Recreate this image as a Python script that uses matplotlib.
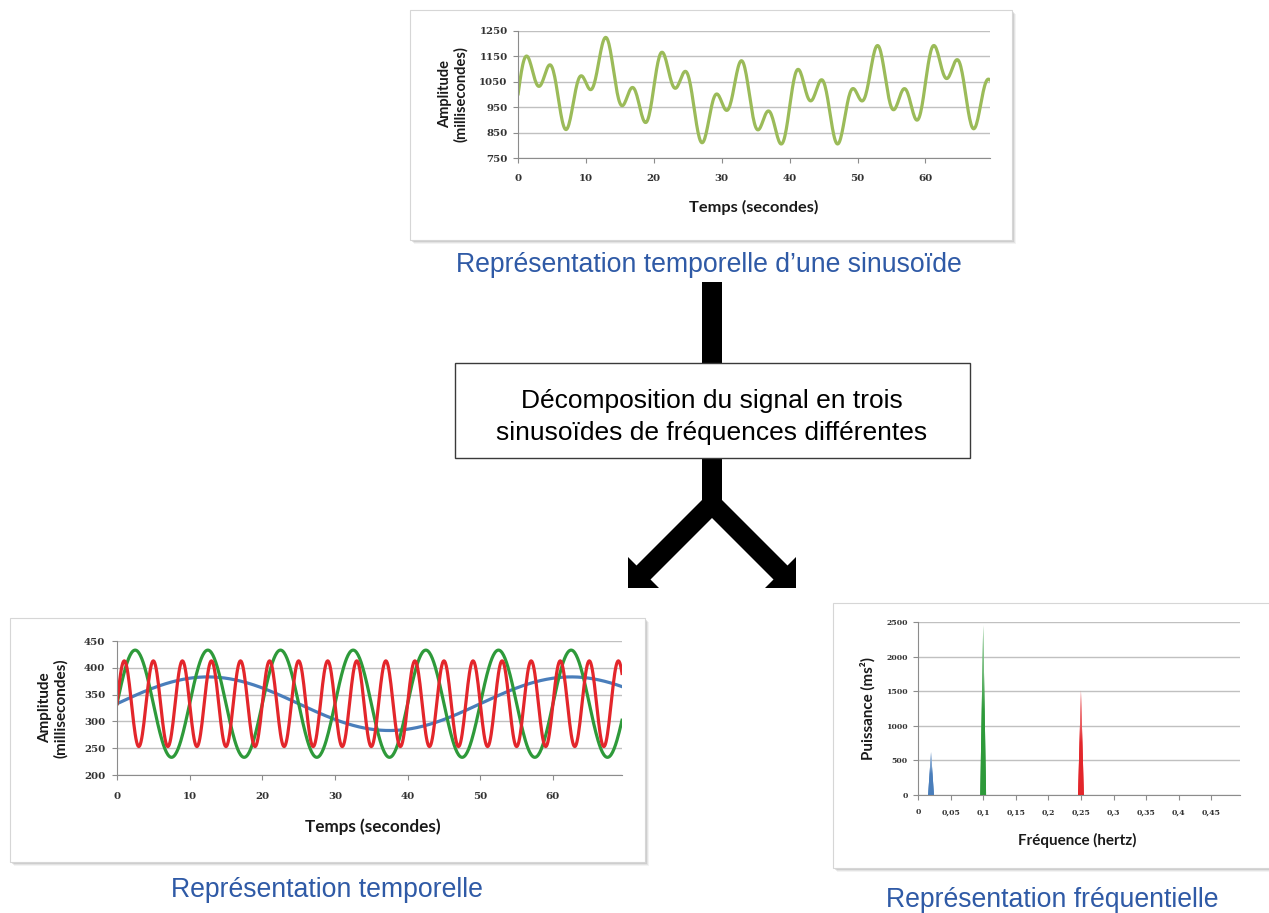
import numpy as np
import matplotlib.pyplot as plt
from matplotlib.patches import Rectangle, Polygon
from matplotlib.colors import LinearSegmentedColormap, to_rgb

W, H = 1269, 913

# the three sinusoids (their frequencies match the spectrum)
FREQ_HZ = [0.02, 0.1, 0.25]
AMPL_MS = [50, 100, 80]
MEAN_MS = 333
DURATION_S = 69.5

# spectrum peaks
POWER_MS2 = [620, 2450, 1510]
SPIKE_HALF_WIDTH = 0.0045

TOP_YTICKS = [750, 850, 950, 1050, 1150, 1250]
LEFT_YTICKS = [200, 250, 300, 350, 400, 450]
TIME_TICKS = [0, 10, 20, 30, 40, 50, 60]
FREQ_TICKS = [0, 0.05, 0.1, 0.15, 0.2, 0.25, 0.3, 0.35, 0.4, 0.45]
FREQ_LABELS = ["0", "0,05", "0,1", "0,15", "0,2", "0,25", "0,3", "0,35", "0,4", "0,45"]
POWER_TICKS = [0, 500, 1000, 1500, 2000, 2500]

COMP_COLORS = ["#4A7EBB", "#2E9A3A", "#E3262B"]
SUM_COLOR = "#9BBB59"
CAPTION_BLUE = "#2F5AA6"
GRID = "#C0C0C0"
AXIS = "#8C8C8C"

TICK_FAMILY = "DejaVu Serif"
LABEL_FONT = dict(family="Lato", weight="bold")
CAPTION_FONT = dict(family="Liberation Sans")


def px_axes(fig, left, top, right, bottom):
    return fig.add_axes([left / W, 1 - bottom / H, (right - left) / W, (bottom - top) / H])


def frame(canvas, x0, y0, x1, y1):
    for off, a in [(4, 0.08), (3, 0.12), (2, 0.18), (1, 0.25)]:
        canvas.add_patch(Rectangle((x0 + off, y0 + off), x1 - x0, y1 - y0,
                                   facecolor="#707070", edgecolor="none", alpha=a, zorder=1))
    canvas.add_patch(Rectangle((x0, y0), x1 - x0, y1 - y0, facecolor="white",
                               edgecolor="#D6D6D6", lw=0.8, zorder=2))


def style_chart(ax, yticks, tick_size, xpad, ypad):
    ax.set_facecolor("white")
    for s in ["top", "right"]:
        ax.spines[s].set_visible(False)
    for s in ["left", "bottom"]:
        ax.spines[s].set_color(AXIS)
        ax.spines[s].set_linewidth(0.8)
    ax.set_yticks(yticks)
    ax.set_ylim(yticks[0], yticks[-1])
    ax.yaxis.grid(True, color=GRID, lw=1.0)
    ax.set_axisbelow(True)
    ax.tick_params(axis="both", length=3.5, width=0.8, color=AXIS, direction="out")
    ax.tick_params(axis="x", pad=xpad)
    ax.tick_params(axis="y", pad=ypad)
    for lab in ax.get_xticklabels() + ax.get_yticklabels():
        lab.set_fontsize(tick_size)
        lab.set_fontfamily(TICK_FAMILY)
        lab.set_fontweight("bold")
        lab.set_color("#333333")


def main():
    t = np.arange(0, DURATION_S + 0.05, 0.1)
    comps = [MEAN_MS + a * np.sin(2 * np.pi * f * t) for f, a in zip(FREQ_HZ, AMPL_MS)]
    total = np.sum(comps, axis=0)

    fig = plt.figure(figsize=(W / 100, H / 100), dpi=100)
    canvas = fig.add_axes([0, 0, 1, 1], zorder=0)
    canvas.set_xlim(0, W)
    canvas.set_ylim(H, 0)
    canvas.axis("off")

    # chart panels
    frame(canvas, 410, 10, 1012, 240)
    frame(canvas, 10, 618, 645, 862)
    frame(canvas, 833, 603, 1275, 868)

    # arrows and box
    canvas.add_patch(Rectangle((702, 282), 20, 82, facecolor="black", edgecolor="none", zorder=3))
    y_shape = [(702, 457), (702, 500), (636.5, 565.5), (628, 557), (628, 588), (659, 588),
               (650.5, 579.5), (712, 518), (773.5, 579.5), (765, 588), (796, 588), (796, 557),
               (787.5, 565.5), (722, 500), (722, 457)]
    canvas.add_patch(Polygon(y_shape, closed=True, facecolor="black", edgecolor="none", zorder=3))
    canvas.add_patch(Rectangle((455, 363), 515, 95, facecolor="white", edgecolor="#3A3A3A",
                               lw=1.0, zorder=4))
    canvas.text(712, 401, "Décomposition du signal en trois", ha="center", va="center",
                fontsize=19, color="black", zorder=5, **CAPTION_FONT)
    canvas.text(712, 433, "sinusoïdes de fréquences différentes", ha="center", va="center",
                fontsize=19, color="black", zorder=5, **CAPTION_FONT)

    # captions
    canvas.text(709, 265, "Représentation temporelle d’une sinusoïde", ha="center", va="center",
                fontsize=19.2, color=CAPTION_BLUE, **CAPTION_FONT)
    canvas.text(327, 890, "Représentation temporelle", ha="center", va="center",
                fontsize=19.2, color=CAPTION_BLUE, **CAPTION_FONT)
    canvas.text(1052, 900, "Représentation fréquentielle", ha="center", va="center",
                fontsize=19.2, color=CAPTION_BLUE, **CAPTION_FONT)

    # top: composite signal
    ax1 = px_axes(fig, 518, 31, 990, 158)
    ax1.set_zorder(2)
    ax1.plot(t, total, color=SUM_COLOR, lw=2.3, solid_capstyle="round")
    ax1.set_xlim(0, DURATION_S)
    ax1.set_xticks(TIME_TICKS)
    style_chart(ax1, TOP_YTICKS, 7.4, 8, 4)
    ax1.text(0.5, -0.39, "Temps (secondes)", transform=ax1.transAxes, ha="center",
             va="center", fontsize=11.8, color="#1A1A1A", **LABEL_FONT)
    ax1.text(-0.138, 0.5, "Amplitude\n(millisecondes)", transform=ax1.transAxes, ha="center",
             va="center", rotation=90, fontsize=10.5, linespacing=1.15, color="#1A1A1A",
             **LABEL_FONT)

    # bottom left: the three components
    ax2 = px_axes(fig, 117, 641, 622, 775)
    ax2.set_zorder(2)
    for c, col in zip(comps, COMP_COLORS):
        ax2.plot(t, c, color=col, lw=2.3)
    ax2.set_xlim(0, DURATION_S)
    ax2.set_xticks(TIME_TICKS)
    style_chart(ax2, LEFT_YTICKS, 7.4, 9, 5)
    ax2.text(0.507, -0.388, "Temps (secondes)", transform=ax2.transAxes, ha="center",
             va="center", fontsize=12.3, color="#1A1A1A", **LABEL_FONT)
    ax2.text(-0.127, 0.5, "Amplitude\n(millisecondes)", transform=ax2.transAxes, ha="center",
             va="center", rotation=90, fontsize=11, linespacing=1.15, color="#1A1A1A",
             **LABEL_FONT)

    # bottom right: power spectrum
    ax3 = px_axes(fig, 918, 622, 1240, 795)
    ax3.set_zorder(2)
    grad = np.linspace(0, 1, 256).reshape(-1, 1)
    for f, p, col in zip(FREQ_HZ, POWER_MS2, COMP_COLORS):
        xs = [f - SPIKE_HALF_WIDTH, f, f + SPIKE_HALF_WIDTH]
        ys = [0, p, 0]
        patch = ax3.fill(xs, ys, color=col, lw=0)[0]
        light = tuple(0.25 * np.array(to_rgb(col)) + 0.75)
        cmap = LinearSegmentedColormap.from_list("spike", [col, col, light])
        im = ax3.imshow(grad, extent=[xs[0], xs[-1], 0, p], origin="lower", aspect="auto",
                        cmap=cmap, zorder=3)
        im.set_clip_path(patch)
    ax3.set_xlim(0, 0.494)
    ax3.set_xticks(FREQ_TICKS)
    ax3.set_xticklabels(FREQ_LABELS)
    style_chart(ax3, POWER_TICKS, 5.6, 6, 4)
    ax3.set_aspect("auto")
    ax3.text(0.494, -0.26, "Fréquence (hertz)", transform=ax3.transAxes, ha="center",
             va="center", fontsize=10.9, color="#1A1A1A", **LABEL_FONT)
    ax3.text(-0.155, 0.5, "Puissance (ms²)", transform=ax3.transAxes, ha="center",
             va="center", rotation=90, fontsize=10.9, color="#1A1A1A", **LABEL_FONT)

    fig.savefig("out.png", dpi=100)


if __name__ == "__main__":
    main()
